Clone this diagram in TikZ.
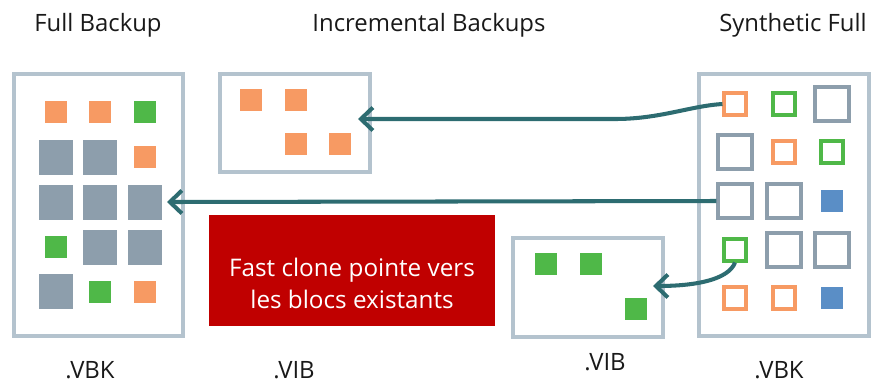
\documentclass[tikz,border=0pt]{standalone}
\usepackage{fontspec}
\setmainfont{Open Sans}
\usetikzlibrary{arrows.meta}
\definecolor{blkorange}{HTML}{F79A63}
\definecolor{blkgreen}{HTML}{4FB848}
\definecolor{blkgray}{HTML}{8D9EAC}
\definecolor{blkblue}{HTML}{5A8EC6}
\definecolor{frameblue}{HTML}{B4C3CE}
\definecolor{arrowteal}{HTML}{2D6C71}
\definecolor{clonered}{HTML}{C00000}
\tikzset{
  filebox/.style={draw=frameblue, line width=1.8pt, fill=white, inner sep=0pt},
  blk/.style={inner sep=0pt, minimum size=0.44cm},
  bigblk/.style={inner sep=0pt, minimum size=0.70cm, fill=blkgray},
  refblk/.style={inner sep=0pt, minimum size=0.44cm, line width=1.8pt, fill=white},
  bigref/.style={inner sep=0pt, minimum size=0.68cm, line width=1.9pt, draw=blkgray, fill=white},
  flow/.style={draw=arrowteal, line width=2.3pt, -{Straight Barb[length=2.4mm,width=4.6mm]}},
  lbl/.style={font=\fontsize{13.6}{16}\selectfont, text=black!90},
  clonebox/.style={fill=clonered, inner sep=0pt, minimum width=5.72cm, minimum height=2.22cm},
  clonetext/.style={text=white, align=center, inner sep=0pt, font=\fontsize{13.8}{18.2}\selectfont}
}
\newcommand{\cellf}[4]{\node[blk, fill=#4] (#1) at (#2,#3) {};}
\newcommand{\cellg}[3]{\node[bigblk] (#1) at (#2,#3) {};}
\newcommand{\cello}[4]{\node[refblk, draw=#4] (#1) at (#2,#3) {};}
\newcommand{\cellr}[3]{\node[bigref] (#1) at (#2,#3) {};}
\begin{document}
\begin{tikzpicture}[x=0.02cm, y=-0.02cm]
        \useasboundingbox (0,0) rectangle (878,383);
        % titles
        \node[lbl] (tfull) at (98,25) {Full Backup};
        \node[lbl] (tinc) at (429,25) {Incremental Backups};
        \node[lbl] (tsyn) at (793,25) {Synthetic Full};
        % files
        \node[filebox, minimum width=3.38cm, minimum height=5.24cm] (full) at (98.5,205) {};
        \node[filebox, minimum width=3.0cm, minimum height=1.96cm] (inc1) at (295,123) {};
        \node[filebox, minimum width=3.0cm, minimum height=1.98cm] (inc2) at (588,287.5) {};
        \node[filebox, minimum width=3.4cm, minimum height=5.24cm] (syn) at (784,205) {};
        % full backup, row 1
        \cellf{f11}{56}{112}{blkorange}
        \cellf{f12}{100}{112}{blkorange}
        \cellf{f13}{145}{112}{blkgreen}
        % row 2
        \cellg{f21}{56}{157}
        \cellg{f22}{100}{157}
        \cellf{f23}{145}{157}{blkorange}
        % row 3
        \cellg{f31}{56}{202}
        \cellg{f32}{100}{202}
        \cellg{f33}{145}{202}
        % row 4
        \cellf{f41}{56}{247}{blkgreen}
        \cellg{f42}{100}{247}
        \cellg{f43}{145}{247}
        % row 5
        \cellg{f51}{56}{291}
        \cellf{f52}{100}{292}{blkgreen}
        \cellf{f53}{145}{292}{blkorange}
        % incrementals
        \cellf{i11}{251}{100}{blkorange}
        \cellf{i12}{296}{100}{blkorange}
        \cellf{i13}{296}{144}{blkorange}
        \cellf{i14}{340}{144}{blkorange}
        \cellf{j1}{546}{264}{blkgreen}
        \cellf{j2}{591}{264}{blkgreen}
        \cellf{j3}{636}{309}{blkgreen}
        % synthetic full, row 1
        \cello{s11}{735}{104}{blkorange}
        \cello{s12}{784}{104}{blkgreen}
        \cellr{s13}{832}{104}
        % row 2
        \cellr{s21}{735}{152}
        \cello{s22}{784}{152}{blkorange}
        \cello{s23}{832}{152}{blkgreen}
        % row 3
        \cellr{s31}{735}{201}
        \cellr{s32}{784}{201}
        \cellf{s33}{832}{201}{blkblue}
        % row 4
        \cello{s41}{735}{250}{blkgreen}
        \cellr{s42}{784}{250}
        \cellr{s43}{832}{250}
        % row 5
        \cello{s51}{735}{298}{blkorange}
        \cello{s52}{784}{298}{blkorange}
        \cellf{s53}{832}{298}{blkblue}
        % fast clone
        \node[clonebox] (clone) at (352,270.5) {};
        \node[clonetext] (clonelbl) at ([yshift=-0.25cm]clone.center) {Fast clone pointe vers\\les blocs existants};
        % pointers
        \coordinate (tipA) at (358,119);
        \coordinate (tipB) at (167,202);
        \coordinate (tipC) at (653,286);
        \draw[flow] (s11.west) .. controls (690,106) and (660,119) .. (615,119) -- (tipA);
        \draw[flow] (s31.west) -- (tipB);
        \draw[flow] (s41.south) .. controls (728,280) and (695,286) .. (tipC);
        % extensions
        \node[lbl] (xfull) at (90,370) {.VBK};
        \node[lbl] (xinc1) at (294,370) {.VIB};
        \node[lbl] (xinc2) at (605,362) {.VIB};
        \node[lbl] (xsyn) at (779,370) {.VBK};
\end{tikzpicture}
\end{document}
